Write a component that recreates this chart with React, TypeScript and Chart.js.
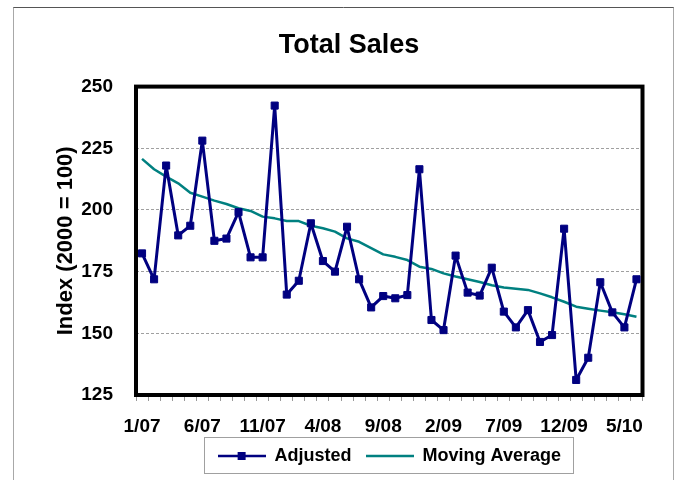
import React, { useEffect, useRef } from 'react';
import { Chart, registerables } from 'chart.js';

Chart.register(...registerables);

const TITLE = 'Total Sales';
const Y_TITLE = 'Index (2000 = 100)';

const LABELS = [
  '1/07', '2/07', '3/07', '4/07', '5/07', '6/07', '7/07', '8/07', '9/07', '10/07', '11/07', '12/07',
  '1/08', '2/08', '3/08', '4/08', '5/08', '6/08', '7/08', '8/08', '9/08', '10/08', '11/08', '12/08',
  '1/09', '2/09', '3/09', '4/09', '5/09', '6/09', '7/09', '8/09', '9/09', '10/09', '11/09', '12/09',
  '1/10', '2/10', '3/10', '4/10', '5/10', '6/10',
];

const ADJUSTED = [
  182.4, 171.9, 218.0, 189.7, 193.6, 228.1, 187.5, 188.4, 199.1, 180.8,
  180.8, 242.3, 165.7, 171.3, 194.6, 179.3, 175.0, 193.2, 171.9, 160.5,
  165.1, 164.2, 165.5, 216.5, 155.4, 151.3, 181.5, 166.5, 165.3, 176.6,
  158.8, 152.4, 159.4, 146.5, 149.3, 192.4, 131.1, 140.1, 170.7, 158.5,
  152.4, 171.9,
];

const MOVING_AVG = [
  220.7, 216.5, 213.5, 210.8, 207.0, 205.4, 203.8, 202.4, 200.7, 199.6,
  197.3, 196.6, 195.5, 195.5, 193.6, 192.6, 191.2, 188.5, 187.1, 184.5,
  182.0, 181.0, 179.7, 177.0, 176.1, 174.3, 173.0, 171.9, 170.8, 169.5,
  168.6, 168.1, 167.6, 166.2, 164.6, 162.8, 160.8, 160.0, 159.2, 158.5,
  157.7, 156.7,
];

const Y_MIN = 125;
const Y_MAX = 250;
const Y_STEP = 25;
const LABEL_EVERY = 5;

const NAVY = '#000080';
const TEAL = '#008080';

function makeIcon(color: string, withSquare: boolean): HTMLCanvasElement {
  const c = document.createElement('canvas');
  c.width = 48;
  c.height = 10;
  const ctx = c.getContext('2d')!;
  ctx.strokeStyle = color;
  ctx.lineWidth = 2.5;
  ctx.beginPath();
  ctx.moveTo(0, 5);
  ctx.lineTo(48, 5);
  ctx.stroke();
  if (withSquare) {
    ctx.fillStyle = color;
    ctx.fillRect(20, 1, 8, 8);
  }
  return c;
}

const framePlugin = {
  id: 'frame',
  beforeDraw(chart: any) {
    const { ctx, width, height } = chart;
    ctx.save();
    ctx.fillStyle = '#fff';
    ctx.fillRect(0, 0, width, height);
    ctx.lineWidth = 1;
    ctx.strokeStyle = '#555';
    ctx.beginPath();
    ctx.moveTo(13, 7.5);
    ctx.lineTo(674, 7.5);
    ctx.stroke();
    ctx.strokeStyle = '#a8a8a8';
    ctx.beginPath();
    ctx.moveTo(13.5, 7.5);
    ctx.lineTo(13.5, height);
    ctx.moveTo(673.5, 7.5);
    ctx.lineTo(673.5, height);
    ctx.stroke();
    ctx.restore();
  },
};

const plotBoxPlugin = {
  id: 'plotBox',
  beforeDatasetsDraw(chart: any) {
    const { ctx, chartArea } = chart;
    ctx.save();
    ctx.strokeStyle = '#000';
    ctx.lineWidth = 4;
    ctx.strokeRect(chartArea.left, chartArea.top, chartArea.right - chartArea.left, chartArea.bottom - chartArea.top);
    ctx.restore();
  },
};

const legendBoxPlugin = {
  id: 'legendBox',
  afterDraw(chart: any) {
    const lg = chart.legend;
    if (!lg || !lg.legendHitBoxes || !lg.legendHitBoxes.length) return;
    const hb = lg.legendHitBoxes;
    let l = Infinity, r = -Infinity, t = Infinity, b = -Infinity;
    hb.forEach((h: any) => {
      l = Math.min(l, h.left);
      r = Math.max(r, h.left + h.width);
      t = Math.min(t, h.top);
      b = Math.max(b, h.top + h.height);
    });
    const { ctx } = chart;
    ctx.save();
    ctx.strokeStyle = '#a0a0a0';
    ctx.lineWidth = 1;
    ctx.strokeRect(Math.round(l - 14) + 0.5, Math.round(t - 10) + 0.5, Math.round(r - l + 26), Math.round(b - t + 18));
    ctx.restore();
  },
};

export default function App() {
  const ref = useRef<HTMLCanvasElement>(null);

  useEffect(() => {
    document.body.style.margin = '0';
    Chart.defaults.font.family = "'Liberation Sans', Arial, sans-serif";
    const adjIcon = makeIcon(NAVY, true);
    const maIcon = makeIcon(TEAL, false);

    const chart = new Chart(ref.current!, {
      type: 'line',
      data: {
        labels: LABELS,
        datasets: [
          {
            label: 'Adjusted',
            data: ADJUSTED,
            borderColor: NAVY,
            backgroundColor: NAVY,
            borderWidth: 3,
            borderJoinStyle: 'round',
            pointStyle: 'rect',
            pointRadius: 5,
            pointBorderWidth: 1,
            pointBackgroundColor: NAVY,
            pointBorderColor: NAVY,
            tension: 0,
            clip: false as any,
          },
          {
            label: 'Moving Average',
            data: MOVING_AVG,
            borderColor: TEAL,
            backgroundColor: TEAL,
            borderWidth: 2.5,
            borderJoinStyle: 'round',
            pointRadius: 0,
            tension: 0,
            clip: false as any,
          },
        ],
      },
      options: {
        responsive: false,
        animation: false,
        devicePixelRatio: 1,
        layout: { padding: { left: 55.5, right: 34.5, top: 0, bottom: 5 } },
        plugins: {
          title: {
            display: true,
            text: TITLE,
            color: '#000',
            font: { size: 27, weight: 'bold', lineHeight: 1.2 },
            padding: { top: 29.8, bottom: 24.4 },
          },
          legend: {
            display: true,
            position: 'bottom',
            fullSize: false,
            labels: {
              usePointStyle: true,
              pointStyleWidth: 48,
              padding: 14,
              color: '#000',
              font: { size: 18, weight: 'bold' },
              generateLabels: (c: any) =>
                c.data.datasets.map((ds: any, i: number) => ({
                  text: ds.label,
                  pointStyle: i === 0 ? adjIcon : maIcon,
                  fillStyle: 'transparent',
                  strokeStyle: 'transparent',
                  lineWidth: 0,
                  hidden: false,
                  datasetIndex: i,
                  fontColor: '#000',
                })),
            },
          },
          tooltip: { enabled: false },
        },
        scales: {
          x: {
            offset: true,
            grid: {
              offset: true,
              drawOnChartArea: false,
              drawTicks: true,
              tickLength: 6,
              color: '#999',
            },
            border: { display: false },
            ticks: {
              autoSkip: false,
              maxRotation: 0,
              minRotation: 0,
              padding: 14,
              color: '#000',
              font: { size: 19, weight: 'bold' },
              callback: function (this: any, v: any, i: number) {
                return i % LABEL_EVERY === 0 ? this.getLabelForValue(v) : '';
              },
            },
            afterFit: (s: any) => {
              s.height = 38;
            },
          },
          y: {
            min: Y_MIN,
            max: Y_MAX,
            ticks: {
              stepSize: Y_STEP,
              padding: 23,
              color: '#000',
              font: { size: 19, weight: 'bold' },
            },
            grid: { color: '#a0a0a0', drawTicks: false, lineWidth: 1 },
            border: { display: false, dash: [3, 2] },
            title: {
              display: true,
              text: Y_TITLE,
              color: '#000',
              font: { size: 22, weight: 'bold', lineHeight: 1 },
              padding: { top: -0.5, bottom: 0 },
            },
            afterFit: (s: any) => {
              s.width = 80.5;
            },
          },
        },
      },
      plugins: [framePlugin, plotBoxPlugin, legendBoxPlugin],
    } as any);

    return () => chart.destroy();
  }, []);

  return (
    <div style={{ position: 'relative', width: 677, height: 480 }}>
      <canvas ref={ref} width={677} height={480} style={{ display: 'block', width: 677, height: 480 }} />
    </div>
  );
}
